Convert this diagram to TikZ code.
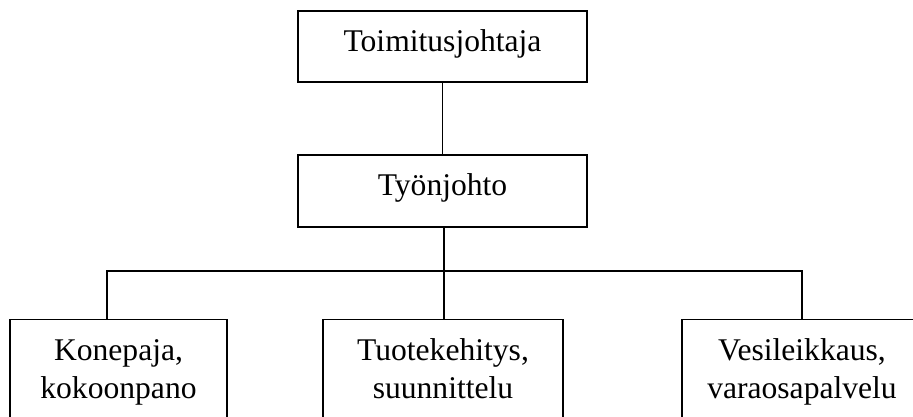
\documentclass[tikz,border=0pt]{standalone}
\usepackage{fontspec}
\setmainfont{Liberation Serif}
\begin{document}
\begin{tikzpicture}[x=1pt,y=-1pt,
  orgbox/.style={draw,line width=1.8pt,inner sep=0pt,align=center,
    font=\fontsize{31.6}{37.5}\selectfont},
  link/.style={line width=1.8pt}]
\useasboundingbox (0,0) rectangle (913,417);
\clip (0,0) rectangle (913,417);
\fill[white] (0,0) rectangle (913,417);
\node[orgbox,minimum width=289pt,minimum height=71pt,text height=21pt,text depth=10pt] (ceo) at (442.5,46.5) {Toimitusjohtaja};
\node[orgbox,minimum width=289pt,minimum height=72pt,text height=20pt,text depth=12pt] (lead) at (442.5,191) {Työnjohto};
\node[orgbox,minimum width=217pt,minimum height=105pt] (kp) at (118.5,372) {Konepaja,\strut\\kokoonpano\strut};
\node[orgbox,minimum width=240pt,minimum height=105pt] (tk) at (443,372) {Tuotekehitys,\strut\\suunnittelu\strut};
\node[orgbox,minimum width=240pt,minimum height=105pt] (vl) at (802,372) {Vesileikkaus,\strut\\varaosapalvelu\strut};
\coordinate (bus) at (444,271);
\coordinate (busl) at (107,271);
\coordinate (busr) at (802,271);
\draw[link] (ceo) -- (lead);
\draw[link] (lead.south -| bus) -- (bus);
\draw[link] (kp.north -| busl) -- (busl) -- (busr) -- (vl.north -| busr);
\draw[link] (bus) -- (tk.north -| bus);
\end{tikzpicture}
\end{document}
